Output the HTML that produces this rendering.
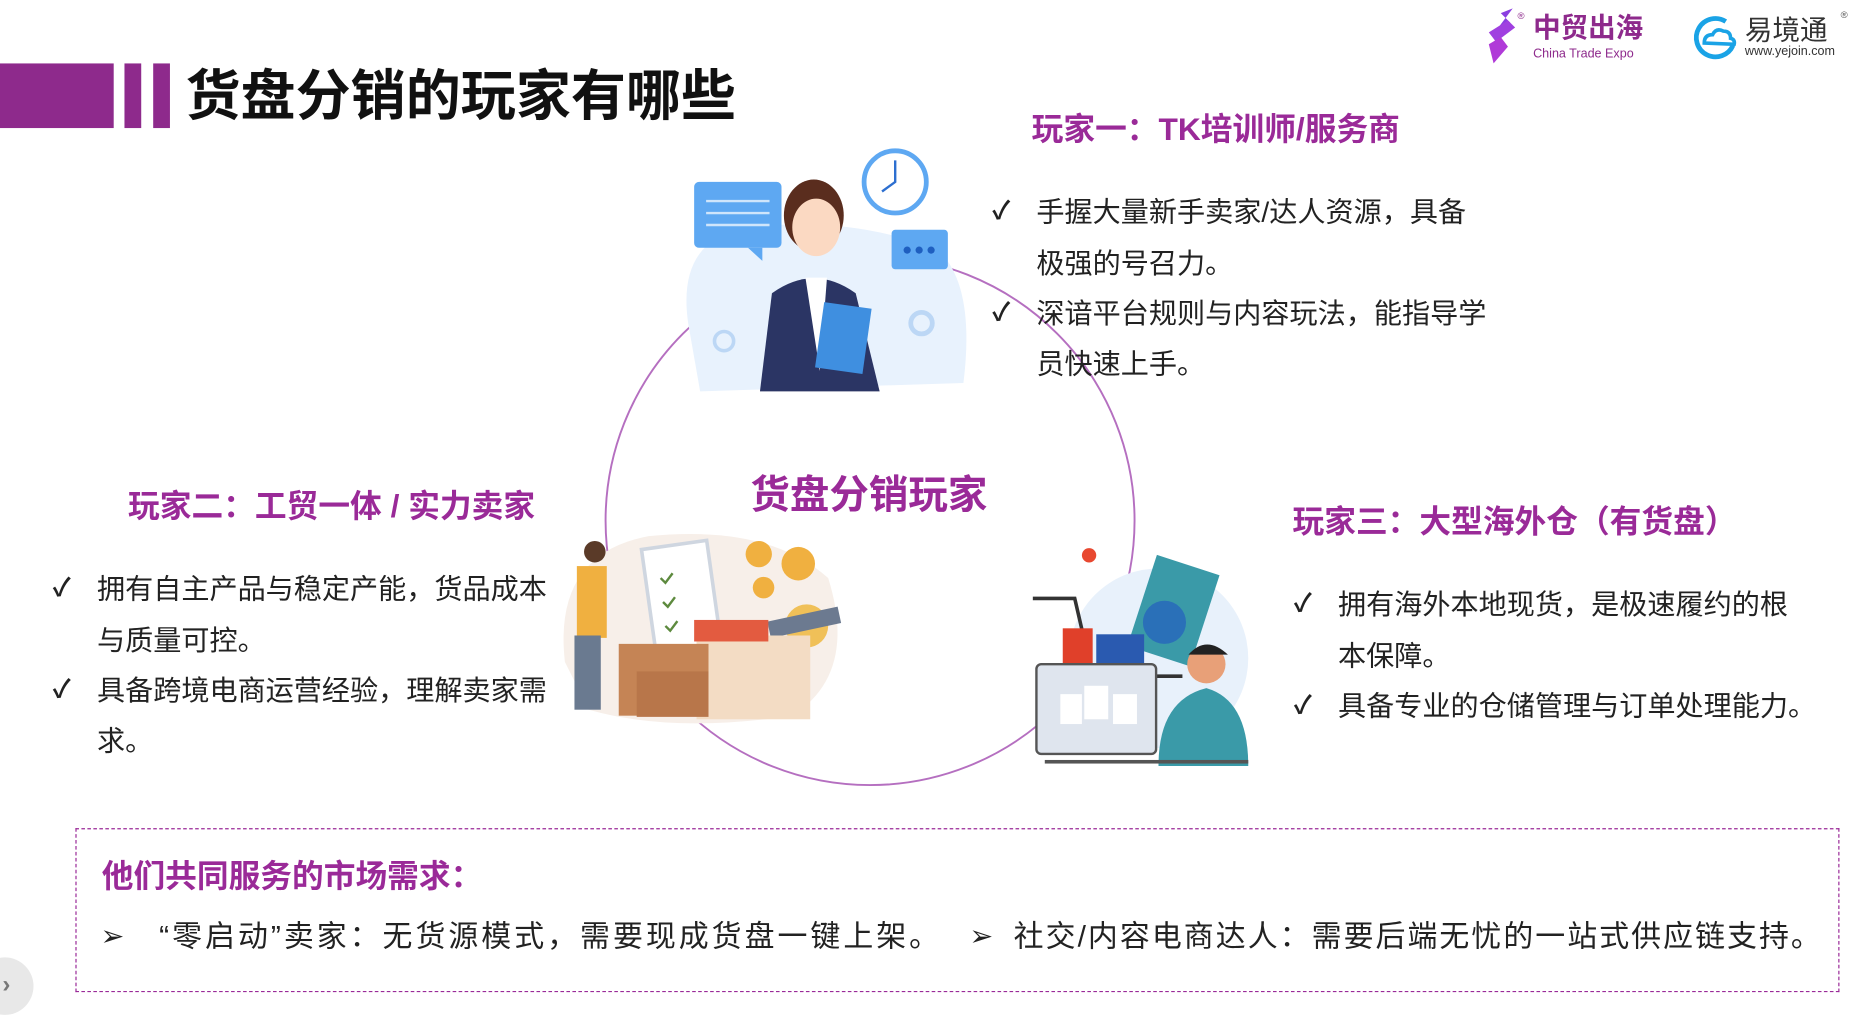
<!DOCTYPE html>
<html><head><meta charset="utf-8">
<style>
html,body{margin:0;padding:0;background:#fff;width:1867px;height:1009px;overflow:hidden}
#w{position:absolute;left:0;top:0;width:1560px;height:843px;transform:scale(1.19679);transform-origin:0 0;font-family:"Liberation Sans","Noto Sans CJK SC",sans-serif}
.a{position:absolute;white-space:nowrap}
.p{color:#9a2a98;font-weight:700}
.t{font-size:23.5px;color:#222;line-height:24px}
.ck{font-size:21px;color:#222;font-weight:700;line-height:22px}
</style></head><body><div id="w">
<div class="a" style="left:0;top:53px;width:95px;height:54px;background:#8e2a8c"></div>
<div class="a" style="left:104px;top:53px;width:14px;height:54px;background:#8e2a8c"></div>
<div class="a" style="left:128px;top:53px;width:14px;height:54px;background:#8e2a8c"></div>
<div class="a" style="left:155px;top:52px;font-size:46px;font-weight:700;color:#111;line-height:56px">货盘分销的玩家有哪些</div>

<svg class="a" style="left:1238px;top:5px" width="40" height="52"><path d="M16 6 L26 2 L14 18 L24 14 Z" fill="#8a3ee0"/><path d="M6 22 L22 12 L28 18 L12 30Z" fill="#a040e0"/><path d="M6 32 L16 26 L22 34 L10 48Z" fill="#b03ad8"/><text x="30" y="11" font-size="8" fill="#8e2a8c">®</text></svg>
<div class="a" style="left:1281px;top:8px;font-size:23px;font-weight:700;color:#8e2a8c;line-height:30px">中贸出海</div>
<div class="a" style="left:1281px;top:39px;font-size:10.5px;color:#8e2a8c">China Trade Expo</div>
<svg class="a" style="left:1412px;top:10px" width="42" height="42"><path d="M30 8 A16 16 0 1 0 36 28" fill="none" stroke="#1aa3e6" stroke-width="4"/><path d="M12 26 q0-7 7-7 q3-6 9-3 q6 0 6 6 q4 1 3 5 z" fill="none" stroke="#1aa3e6" stroke-width="3"/></svg>
<div class="a" style="left:1458px;top:10px;font-size:23px;color:#333;line-height:30px">易境通</div>
<div class="a" style="left:1538px;top:8px;font-size:8px;color:#555">®</div>
<div class="a" style="left:1458px;top:37px;font-size:10.5px;color:#333">www.yejoin.com</div>

<svg class="a" style="left:0;top:0" width="1560" height="843"><circle cx="727" cy="435" r="221" fill="none" stroke="#b56fc0" stroke-width="1.6"/></svg>

<svg class="a" style="left:565px;top:120px" width="250" height="210">
<path d="M10 150 Q0 80 60 70 Q150 60 220 90 Q250 120 240 200 L20 207 Z" fill="#e8f2fd"/>
<rect x="15" y="32" width="73" height="55" rx="4" fill="#5ea8f2"/><path d="M60 87 L72 87 L72 98Z" fill="#5ea8f2"/>
<g stroke="#cfe5fb" stroke-width="2"><line x1="25" y1="48" x2="78" y2="48"/><line x1="25" y1="58" x2="78" y2="58"/><line x1="25" y1="68" x2="78" y2="68"/></g>
<circle cx="183" cy="32" r="26" fill="#fff" stroke="#5ea8f2" stroke-width="4"/><path d="M183 14 V32 L172 40" stroke="#2d6fd0" stroke-width="2" fill="none"/>
<rect x="180" y="72" width="47" height="33" rx="3" fill="#5ea8f2"/><g fill="#1f5fc0"><circle cx="193" cy="89" r="3"/><circle cx="203" cy="89" r="3"/><circle cx="213" cy="89" r="3"/></g>
<ellipse cx="115" cy="60" rx="25" ry="30" fill="#5a2d1e"/><ellipse cx="117" cy="70" rx="20" ry="24" fill="#fbd9c2"/>
<path d="M70 207 L80 125 Q115 100 150 125 L170 207Z" fill="#2b3564"/><path d="M108 112 L126 112 L120 190 Z" fill="#fff"/>
<rect x="120" y="135" width="40" height="55" fill="#3f8fe0" transform="rotate(8 140 160)"/>
<circle cx="205" cy="150" r="9" fill="none" stroke="#bcd7f5" stroke-width="4"/><circle cx="40" cy="165" r="8" fill="none" stroke="#bcd7f5" stroke-width="3"/>
</svg>

<svg class="a" style="left:462px;top:443px" width="250" height="165">
<path d="M10 110 Q0 20 80 5 Q180 -5 230 40 Q255 120 200 155 Q100 170 30 150Z" fill="#f7efe9"/>
<rect x="80" y="12" width="55" height="90" fill="#fff" stroke="#cfd6e0" stroke-width="3" transform="rotate(-8 107 57)"/>
<g stroke="#5d8a3e" stroke-width="2" fill="none"><path d="M90 40 l4 4 6-8"/><path d="M92 60 l4 4 6-8"/><path d="M94 80 l4 4 6-8"/></g>
<circle cx="172" cy="20" r="11" fill="#f0b040"/><circle cx="205" cy="28" r="14" fill="#f0b040"/><circle cx="176" cy="48" r="9" fill="#f0b040"/>
<circle cx="212" cy="80" r="18" fill="#f0c058"/><rect x="180" y="70" width="60" height="14" fill="#6c7a90" transform="rotate(-12 210 77)"/>
<rect x="120" y="88" width="95" height="70" fill="#f3dcc4"/><rect x="118" y="75" width="62" height="18" fill="#e35b40"/>
<rect x="55" y="95" width="75" height="60" fill="#c58455"/><rect x="70" y="118" width="60" height="38" fill="#b8764a"/>
<rect x="20" y="30" width="25" height="60" fill="#f0b040"/><circle cx="35" cy="18" r="9" fill="#5a3a28"/><rect x="18" y="88" width="22" height="62" fill="#6a7a90"/>
</svg>

<svg class="a" style="left:858px;top:455px" width="190" height="190">
<circle cx="110" cy="95" r="75" fill="#e8f1fb"/>
<rect x="95" y="15" width="55" height="80" fill="#3a9aa8" transform="rotate(18 122 55)"/>
<circle cx="115" cy="65" r="18" fill="#2a70b8"/>
<circle cx="52" cy="9" r="6" fill="#e84830"/>
<path d="M5 45 H40 L55 110 H130" stroke="#333" stroke-width="3" fill="none"/>
<rect x="30" y="70" width="25" height="40" fill="#e0402a"/><rect x="58" y="75" width="40" height="40" fill="#2a5ab0"/>
<rect x="8" y="100" width="100" height="75" rx="4" fill="#dfe5ee" stroke="#555" stroke-width="2"/>
<rect x="28" y="125" width="18" height="25" fill="#fff"/><rect x="48" y="118" width="20" height="28" fill="#fff"/><rect x="72" y="125" width="20" height="25" fill="#fff"/>
<path d="M110 185 Q110 130 150 120 Q185 130 185 185Z" fill="#3a9aa8"/><circle cx="150" cy="100" r="16" fill="#e8a078"/><path d="M135 92 Q150 75 168 92" fill="#222"/>
<rect x="15" y="180" width="170" height="3" fill="#555"/>
</svg>

<div class="a p" style="left:862px;top:92px;font-size:26.5px;line-height:32px">玩家一：TK培训师/服务商</div>
<div class="a ck" style="left:829px;top:166px">✓</div><div class="a t" style="left:866px;top:165px">手握大量新手卖家/达人资源，具备</div>
<div class="a t" style="left:866px;top:208px">极强的号召力。</div>
<div class="a ck" style="left:829px;top:251px">✓</div><div class="a t" style="left:866px;top:250px">深谙平台规则与内容玩法，能指导学</div>
<div class="a t" style="left:866px;top:292px">员快速上手。</div>

<div class="a p" style="left:627px;top:394px;font-size:33px;line-height:40px">货盘分销玩家</div>

<div class="a p" style="left:107px;top:407px;font-size:26.5px;line-height:32px">玩家二：工贸一体 / 实力卖家</div>
<div class="a ck" style="left:44px;top:481px">✓</div><div class="a t" style="left:81px;top:480px">拥有自主产品与稳定产能，货品成本</div>
<div class="a t" style="left:81px;top:523px">与质量可控。</div>
<div class="a ck" style="left:44px;top:566px">✓</div><div class="a t" style="left:81px;top:565px">具备跨境电商运营经验，理解卖家需</div>
<div class="a t" style="left:81px;top:607px">求。</div>

<div class="a p" style="left:1080px;top:420px;font-size:26.5px;line-height:32px">玩家三：大型海外仓（有货盘）</div>
<div class="a ck" style="left:1081px;top:494px">✓</div><div class="a t" style="left:1118px;top:493px">拥有海外本地现货，是极速履约的根</div>
<div class="a t" style="left:1118px;top:536px">本保障。</div>
<div class="a ck" style="left:1081px;top:579px">✓</div><div class="a t" style="left:1118px;top:578px">具备专业的仓储管理与订单处理能力。</div>

<div class="a" style="left:63px;top:692px;width:1474px;height:137px;border:1.5px dashed #9a2a98;box-sizing:border-box"></div>
<div class="a p" style="left:85px;top:716px;font-size:26.5px;line-height:32px">他们共同服务的市场需求：</div>
<div class="a" style="left:84px;top:769px;font-size:24px;color:#222;line-height:28px">➢</div>
<div class="a" style="left:133px;top:768px;font-size:25px;color:#222;line-height:30px;letter-spacing:2.5px">“零启动”卖家：无货源模式，需要现成货盘一键上架。</div>
<div class="a" style="left:810px;top:769px;font-size:24px;color:#222;line-height:28px">➢</div>
<div class="a" style="left:847px;top:768px;font-size:25px;color:#222;line-height:30px;letter-spacing:1.7px">社交/内容电商达人：需要后端无忧的一站式供应链支持。</div>

<div class="a" style="left:-20px;top:800px;width:48px;height:48px;border-radius:50%;background:#e8e8e8"></div>
<div class="a" style="left:2px;top:812px;font-size:20px;font-weight:700;color:#777">›</div>
</div></body></html>
